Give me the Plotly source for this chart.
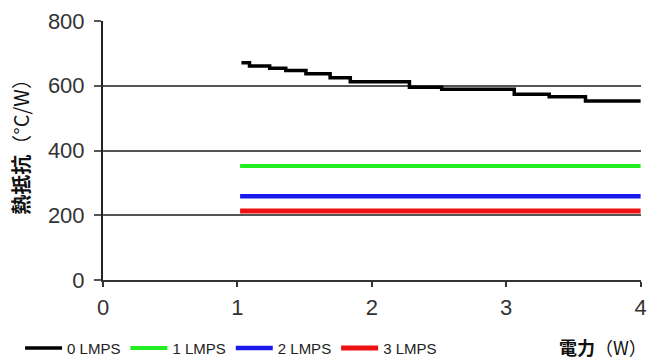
import plotly.graph_objects as go

# 0 LMPS (step-like decreasing curve)
x0 = [1.03, 1.09, 1.24, 1.36, 1.51, 1.69, 1.84, 2.28, 2.52, 3.06, 3.32, 3.59, 4.0]
y0 = [671, 661, 654, 647, 637, 625, 612, 595, 589, 574, 566, 553, 553]

x_flat = [1.02, 4.0]
y1 = [352, 352]   # 1 LMPS
y2 = [259, 259]   # 2 LMPS
y3 = [213, 213]   # 3 LMPS

names = ["0 LMPS", "1 LMPS", "2 LMPS", "3 LMPS"]
colors = ["#000000", "#22ee22", "#1a1aee", "#ee1111"]
widths = [3.5, 4, 4.5, 5]

y_ticks = [0, 200, 400, 600, 800]
x_ticks = [0, 1, 2, 3, 4]

FONT = "Liberation Sans, Arial, sans-serif"

fig = go.Figure()
fig.add_trace(go.Scatter(x=x0, y=y0, mode="lines", name=names[0], line=dict(color=colors[0], width=widths[0], shape="hv")))
fig.add_trace(go.Scatter(x=x_flat, y=y1, mode="lines", name=names[1], line=dict(color=colors[1], width=widths[1])))
fig.add_trace(go.Scatter(x=x_flat, y=y2, mode="lines", name=names[2], line=dict(color=colors[2], width=widths[2])))
fig.add_trace(go.Scatter(x=x_flat, y=y3, mode="lines", name=names[3], line=dict(color=colors[3], width=widths[3])))

fig.update_layout(
    width=647, height=359,
    margin=dict(l=103, r=6, t=21, b=79, autoexpand=False),
    paper_bgcolor="white", plot_bgcolor="white",
    font=dict(family=FONT, size=16, color="#222"),
    showlegend=True,
    legend=dict(orientation="h", xref="container", yref="container", x=0.031, y=0.03,
                xanchor="left", yanchor="middle", font=dict(family=FONT, size=15, color="#222"),
                itemwidth=37, tracegroupgap=0, bgcolor="rgba(0,0,0,0)"),
    annotations=[
        dict(text="<b>電力</b>（W）", xref="paper", yref="paper", x=0.843, y=-0.259,
             xanchor="left", yanchor="middle", showarrow=False,
             font=dict(family="Noto Sans CJK JP", size=18, color="#111")),
        dict(text="<b>熱抵抗</b>（°C/W）", xref="paper", yref="paper", x=-0.153, y=0.533,
             xanchor="center", yanchor="middle", textangle=-90, showarrow=False,
             font=dict(family="Noto Sans CJK JP", size=20, color="#111")),
    ],
)
fig.update_xaxes(range=[0, 4.003], tickvals=x_ticks, showgrid=False, zeroline=False, automargin=False,
                 showline=True, linecolor="#333", linewidth=2,
                 ticks="outside", ticklen=5, tickcolor="#333", tickwidth=2,
                 ticklabelstandoff=2, ticklabeloverflow="allow",
                 tickfont=dict(family=FONT, size=22, color="#333"))
fig.update_yaxes(range=[0, 800], tickvals=y_ticks, showgrid=True, gridcolor="#555", gridwidth=2,
                 zeroline=False, automargin=False, showline=True, linecolor="#222", linewidth=2,
                 ticks="outside", ticklen=7, tickcolor="#555", tickwidth=2,
                 ticklabelstandoff=5,
                 tickfont=dict(family=FONT, size=22, color="#333"))

fig.write_html("out.html", config={"displayModeBar": False},
               post_script="document.body.style.margin='0';document.body.style.overflow='hidden';")
